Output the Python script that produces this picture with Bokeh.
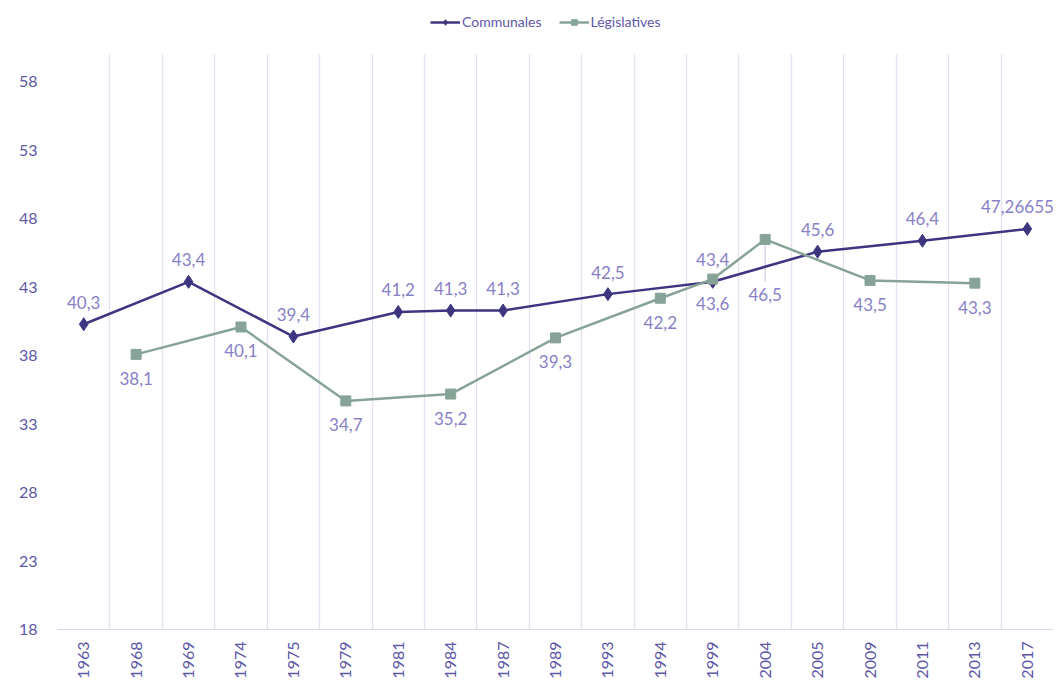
import numpy as np
from bokeh.plotting import figure
from bokeh.models import (ColumnDataSource, FixedTicker, Legend, LegendItem, Range1d, BoxAnnotation)
from bokeh.core.properties import value
from bokeh.embed import file_html
from bokeh.resources import INLINE

years = ["1963", "1968", "1969", "1974", "1975", "1979", "1981", "1984", "1987", "1989",
         "1993", "1994", "1999", "2004", "2005", "2009", "2011", "2013", "2017"]

communales_years = ["1963", "1969", "1975", "1981", "1984", "1987", "1993", "1999", "2005", "2011", "2017"]
communales_vals = [40.3, 43.4, 39.4, 41.2, 41.3, 41.3, 42.5, 43.4, 45.6, 46.4, 47.2665549]
communales_labels = ["40,3", "43,4", "39,4", "41,2", "41,3", "41,3", "42,5", "43,4", "45,6", "46,4", "47,2665549"]

legis_years = ["1968", "1974", "1979", "1984", "1989", "1994", "1999", "2004", "2009", "2013"]
legis_vals = [38.1, 40.1, 34.7, 35.2, 39.3, 42.2, 43.6, 46.5, 43.5, 43.3]
legis_labels = ["38,1", "40,1", "34,7", "35,2", "39,3", "42,2", "43,6", "46,5", "43,5", "43,3"]

y_ticks = [18, 23, 28, 33, 38, 43, 48, 53, 58]
y_min, y_max = 18, 60

FONT = "Lato"
DARK = "#3e3581"
GREEN = "#87a398"
LABEL_COL = "#8880c6"
TICK_COL = "#5d57a6"
GRID_COL = "#e4e1f1"

# layout (pixels)
W, H = 1053, 681
LEFT, TOP_AXIS, BOTTOM_FRAME = 57, 54, 628
px_per_unit = (BOTTOM_FRAME - TOP_AXIS) / (y_max - y_min)
y_top = y_max + TOP_AXIS / px_per_unit  # frame reaches canvas top; area above y_max is blanked

pos = {y: i + 0.5 for i, y in enumerate(years)}

p = figure(width=W, height=H, output_backend="svg", toolbar_location=None,
           x_range=Range1d(0, len(years)), y_range=Range1d(y_min, y_top),
           min_border_left=LEFT, min_border_right=0, min_border_bottom=0, min_border_top=0)
p.outline_line_color = None
p.background_fill_color = "white"
p.border_fill_color = "white"

# axes
p.xaxis.ticker = FixedTicker(ticks=[pos[y] for y in years])
p.xaxis.major_label_overrides = {pos[y]: y for y in years}
p.xaxis.major_label_orientation = np.pi / 2
p.xaxis.major_tick_line_color = None
p.xaxis.minor_tick_line_color = None
p.xaxis.axis_line_color = "#d9d5ec"
p.xaxis.axis_line_width = 1
p.xaxis.major_label_text_font = FONT
p.xaxis.major_label_text_font_size = "16px"
p.xaxis.major_label_text_color = TICK_COL
p.xaxis.major_label_standoff = 6

p.yaxis.ticker = FixedTicker(ticks=y_ticks)
p.yaxis.axis_line_color = None
p.yaxis.major_tick_line_color = None
p.yaxis.minor_tick_line_color = None
p.yaxis.major_label_text_font = FONT
p.yaxis.major_label_text_font_size = "16px"
p.yaxis.major_label_text_color = TICK_COL
p.yaxis.major_label_standoff = 14

p.xgrid.ticker = FixedTicker(ticks=list(range(0, len(years) + 1)))
p.xgrid.grid_line_color = GRID_COL
p.xgrid.grid_line_width = 1.3
p.ygrid.grid_line_color = None

# blank the area above the value axis maximum (legend area)
p.add_layout(BoxAnnotation(bottom=y_max, fill_color="white", fill_alpha=1.0, line_color=None))

src_c = ColumnDataSource(dict(x=[pos[y] for y in communales_years], y=communales_vals, lab=communales_labels))
src_l = ColumnDataSource(dict(x=[pos[y] for y in legis_years], y=legis_vals, lab=legis_labels))

# leader line for 2004 label
lead_idx = legis_years.index("2004")
src_lead = ColumnDataSource(dict(x=[src_l.data["x"][lead_idx]], y=[legis_vals[lead_idx]]))
p.ray(x="x", y="y", source=src_lead, length=42, length_units="screen", angle=-np.pi / 2,
      line_color="#c9c4e6", line_width=1)

lc = p.line(x="x", y="y", source=src_c, line_color=DARK, line_width=2.5)
sc = p.scatter(x="x", y="y", source=src_c, marker="diamond", size=13, fill_color=DARK, line_color=DARK)
ll = p.line(x="x", y="y", source=src_l, line_color=GREEN, line_width=2.5)
sl = p.scatter(x="x", y="y", source=src_l, marker="square", size=10, fill_color=GREEN, line_color=GREEN)

# data labels
p.text(x="x", y="y", text="lab", source=src_c, text_align="center", text_baseline="middle",
       y_offset=-22, text_font=value(FONT), text_font_size="17px", text_color=LABEL_COL)

norm_l = ColumnDataSource(dict(
    x=[x for i, x in enumerate(src_l.data["x"]) if i != lead_idx],
    y=[v for i, v in enumerate(legis_vals) if i != lead_idx],
    lab=[t for i, t in enumerate(legis_labels) if i != lead_idx]))
p.text(x="x", y="y", text="lab", source=norm_l, text_align="center", text_baseline="middle",
       y_offset=24, text_font=value(FONT), text_font_size="17px", text_color=LABEL_COL)
lead_lab = ColumnDataSource(dict(x=[src_l.data["x"][lead_idx]], y=[legis_vals[lead_idx]], lab=[legis_labels[lead_idx]]))
p.text(x="x", y="y", text="lab", source=lead_lab, text_align="center", text_baseline="middle",
       y_offset=55, text_font=value(FONT), text_font_size="17px", text_color=LABEL_COL)

legend = Legend(items=[LegendItem(label="Communales", renderers=[lc, sc]),
                       LegendItem(label="Législatives", renderers=[ll, sl])],
                orientation="horizontal", location=(373, 599),
                label_text_font=FONT, label_text_font_size="14px", label_text_color=TICK_COL,
                glyph_width=30, glyph_height=14, spacing=17, padding=2, margin=0,
                label_standoff=2, border_line_color=None, background_fill_alpha=0)
p.add_layout(legend)

open("out.html", "w").write(file_html(p, INLINE))
